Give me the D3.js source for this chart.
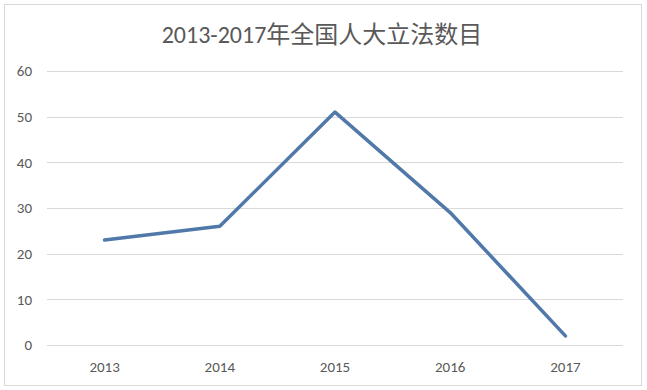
<!DOCTYPE html>
<html>
<head>
<meta charset="utf-8">
<script src="https://cdn.jsdelivr.net/npm/d3@7"></script>
<style>
  body { margin: 0; background: #fff; }
  text { font-family: Calibri, Carlito, "Open Sans", "Noto Sans CJK SC", sans-serif; }
</style>
</head>
<body>
<div id="chart"></div>
<script>
// data
var years = ["2013", "2014", "2015", "2016", "2017"];
var counts = [23, 26, 51, 29, 2];
var yTicks = [0, 10, 20, 30, 40, 50, 60];
var title = "2013-2017年全国人大立法数目";

var W = 647, H = 390;
var margin = { top: 71, right: 24, bottom: 45, left: 47 };
var width = W - margin.left - margin.right,
    height = H - margin.top - margin.bottom;

var svg = d3.select("#chart").append("svg")
    .attr("width", W)
    .attr("height", H);

// outer frame
svg.append("rect")
    .attr("x", 4.5).attr("y", 4.5)
    .attr("width", 637).attr("height", 381)
    .attr("fill", "#fff")
    .attr("stroke", "#d9d9d9");

svg.append("text")
    .attr("x", 322)
    .attr("y", 43)
    .attr("text-anchor", "middle")
    .style("font-size", "24px")
    .style("fill", "#595959")
    .text(title);

var g = svg.append("g")
    .attr("transform", "translate(" + margin.left + "," + margin.top + ")");

var x = d3.scaleBand().domain(years).range([0, width]);
var y = d3.scaleLinear().domain([0, 60]).range([height, 0]);

// gridlines
g.selectAll(".grid")
    .data(yTicks)
    .enter().append("line")
    .attr("x1", 0).attr("x2", width)
    .attr("y1", function(d) { return Math.round(y(d)) + 0.5; })
    .attr("y2", function(d) { return Math.round(y(d)) + 0.5; })
    .attr("stroke", "#d9d9d9")
    .attr("stroke-width", 1);

// y axis labels
var yAxis = g.append("g")
    .call(d3.axisLeft(y).tickValues(yTicks).tickSize(0).tickPadding(15))
    .attr("font-size", 15)
    .attr("font-family", "Calibri, Carlito, 'Open Sans', sans-serif");
yAxis.select(".domain").remove();
yAxis.selectAll("text").attr("fill", "#595959");

// x axis labels
var xAxis = g.append("g")
    .attr("transform", "translate(0," + height + ")")
    .call(d3.axisBottom(x).tickSize(0).tickPadding(16))
    .attr("font-size", 15)
    .attr("font-family", "Calibri, Carlito, 'Open Sans', sans-serif");
xAxis.select(".domain").remove();
xAxis.selectAll("text").attr("fill", "#595959");

var line = d3.line()
    .x(function(d, i) { return x(years[i]) + x.bandwidth() / 2; })
    .y(function(d) { return y(d); });

g.append("path")
    .datum(counts)
    .attr("d", line)
    .attr("fill", "none")
    .attr("stroke", "#5079aa")
    .attr("stroke-width", 3.5)
    .attr("stroke-linejoin", "round")
    .attr("stroke-linecap", "round");
</script>
</body>
</html>
